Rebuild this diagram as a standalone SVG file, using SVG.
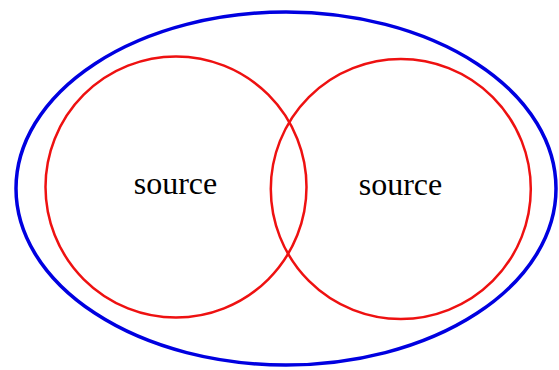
<svg xmlns="http://www.w3.org/2000/svg" width="559" height="370" viewBox="0 0 559 370">
<style>
.outer{fill:none;stroke:#0000e0;stroke-width:3.5}
.src{fill:none;stroke:#ee1111;stroke-width:2.5}
.lbl{font-family:"Liberation Serif","Times New Roman",serif;font-size:32px;fill:#000;text-anchor:middle}
</style>
<rect width="559" height="370" fill="#fff"/>
<g id="outer"><ellipse class="outer" cx="286" cy="188.5" rx="270" ry="176.5"/></g>
<g id="source-left">
<circle class="src" cx="176" cy="187" r="130.5"/>
<text class="lbl" x="175.5" y="193.5">source</text>
</g>
<g id="source-right">
<circle class="src" cx="400.8" cy="189" r="130"/>
<text class="lbl" x="400.5" y="194.5">source</text>
</g>
<g id="connectors"/>
</svg>
